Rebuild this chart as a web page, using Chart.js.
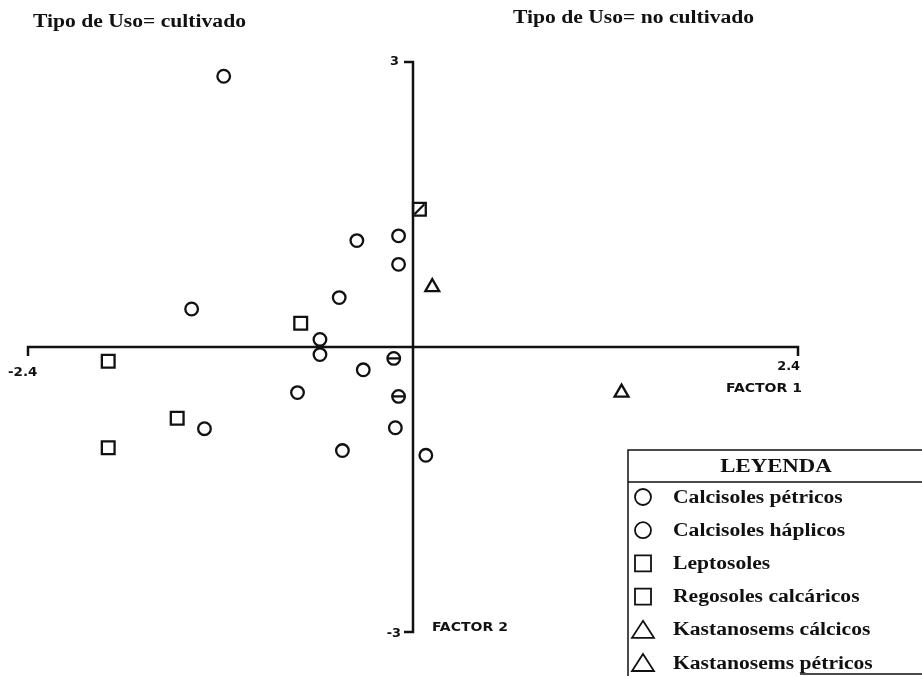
<!DOCTYPE html>
<html>
<head>
<meta charset="utf-8">
<script src="https://cdn.jsdelivr.net/npm/chart.js@4"></script>
<style>
  body { margin: 0; background: #fff; }
  #wrap { width: 922px; height: 676px; }
</style>
</head>
<body>
<div id="wrap"><canvas id="myChart" width="922" height="676"></canvas></div>
<script>
// factor scores
const calcisolesPetricos = [
    {x: -1.18, y: 2.85}, {x: -0.35, y: 1.12}, {x: -0.09, y: 1.17}, {x: -0.09, y: 0.87},
    {x: -0.46, y: 0.52}, {x: -1.38, y: 0.40}, {x: -0.58, y: 0.08}, {x: -0.58, y: -0.08}
];
const calcisolesHaplicos = [
    {x: -0.12, y: -0.12}, {x: -0.31, y: -0.24}, {x: -0.72, y: -0.48}, {x: -0.09, y: -0.52},
    {x: -1.30, y: -0.86}, {x: -0.11, y: -0.85}, {x: -0.44, y: -1.09}, {x: 0.08, y: -1.14}
];
const leptosoles = [{x: 0.04, y: 1.45}, {x: -0.70, y: 0.25}, {x: -1.90, y: -0.15}];
const regosolesCalcaricos = [{x: -1.47, y: -0.75}, {x: -1.90, y: -1.06}];
const kastanosemsCalcicos = [{x: 0.12, y: 0.63}];
const kastanosemsPetricos = [{x: 1.30, y: -0.48}];
// overlapping marks (bar through circles, slash in square)
const overlapDash = [{x: -0.12, y: -0.12}, {x: -0.09, y: -0.52}];
const overlapSlash = [{x: 0.04, y: 1.45}];

const xRange = [-2.4, 2.4];
const yRange = [-3, 3];
const xTickLabels = ['-2.4', '2.4'];
const yTickLabels = ['3', '-3'];

const legendNames = ['Calcisoles pétricos', 'Calcisoles háplicos', 'Leptosoles',
    'Regosoles calcáricos', 'Kastanosems cálcicos', 'Kastanosems pétricos'];
const legendShapes = ['circle', 'circle', 'rect', 'rect', 'triangle', 'triangle'];

const serif = '"Liberation Serif", "Times New Roman", serif';
const sansCond = '"DejaVu Sans Condensed", "DejaVu Sans", sans-serif';

const mk = function(label, data, style, radius) {
    return {
        label: label,
        data: data,
        pointStyle: style,
        pointRadius: radius,
        pointBorderColor: '#111',
        pointBackgroundColor: 'rgba(0,0,0,0)',
        pointBorderWidth: 2.3,
        showLine: false
    };
};

// the scan is stretched sideways, so text gets a horizontal scale
const wideText = function(ctx, text, x, y, sx) {
    ctx.save();
    ctx.translate(x, y);
    ctx.scale(sx, 1);
    ctx.fillText(text, 0, 0);
    ctx.restore();
};

const axesPlugin = {
    id: 'crossAxes',
    afterDatasetsDraw(chart) {
        const ctx = chart.ctx;
        const xs = chart.scales.x, ys = chart.scales.y;
        const x0 = xs.getPixelForValue(0), y0 = ys.getPixelForValue(0);
        const xl = xs.getPixelForValue(xRange[0]), xr = xs.getPixelForValue(xRange[1]);
        const yt = ys.getPixelForValue(yRange[1]), yb = ys.getPixelForValue(yRange[0]);
        ctx.save();
        ctx.strokeStyle = '#111';
        ctx.lineWidth = 2.5;
        ctx.beginPath();
        ctx.moveTo(xl, y0 + 9); ctx.lineTo(xl, y0); ctx.lineTo(xr, y0); ctx.lineTo(xr, y0 + 9);
        ctx.moveTo(x0 - 9, yt); ctx.lineTo(x0, yt); ctx.lineTo(x0, yb); ctx.lineTo(x0 - 9, yb);
        ctx.stroke();

        ctx.fillStyle = '#111';
        ctx.font = 'bold 13px ' + sansCond;
        ctx.textBaseline = 'middle';
        ctx.textAlign = 'left';
        wideText(ctx, xTickLabels[0], 8, y0 + 26, 1.15);
        ctx.textAlign = 'right';
        wideText(ctx, xTickLabels[1], xr + 2, y0 + 20, 1.1);
        wideText(ctx, 'FACTOR 1', xr + 4, y0 + 42, 1.2);
        wideText(ctx, yTickLabels[0], x0 - 14, yt, 1.1);
        wideText(ctx, yTickLabels[1], x0 - 12, yb + 2, 1.1);
        ctx.textAlign = 'left';
        wideText(ctx, 'FACTOR 2', x0 + 19, yb - 4, 1.2);

        // titles
        ctx.font = 'bold 18px ' + serif;
        wideText(ctx, 'Tipo de Uso= cultivado', 33, 22, 1.2);
        wideText(ctx, 'Tipo de Uso= no cultivado', 513, 18, 1.2);

        // legend box
        const lx = 628, ly = 450;
        ctx.lineWidth = 1.5;
        ctx.beginPath();
        ctx.moveTo(lx, 676); ctx.lineTo(lx, ly); ctx.lineTo(922, ly);
        ctx.moveTo(lx, 482); ctx.lineTo(922, 482);
        ctx.moveTo(800, 674); ctx.lineTo(922, 674);
        ctx.stroke();
        ctx.textAlign = 'center';
        ctx.font = 'bold 19px ' + serif;
        wideText(ctx, 'LEYENDA', 776, 467, 1.2);
        ctx.textAlign = 'left';
        ctx.font = 'bold 18px ' + serif;
        ctx.lineWidth = 1.8;
        legendNames.forEach(function(name, i) {
            const cy = 497 + i * 33.2;
            const cx = 643;
            ctx.beginPath();
            if (legendShapes[i] === 'circle') {
                ctx.arc(cx, cy, 8, 0, Math.PI * 2);
            } else if (legendShapes[i] === 'rect') {
                ctx.rect(cx - 8, cy - 8, 16, 16);
            } else {
                ctx.moveTo(cx, cy - 9); ctx.lineTo(cx + 11, cy + 8); ctx.lineTo(cx - 11, cy + 8); ctx.closePath();
            }
            ctx.stroke();
            wideText(ctx, name, 673, cy + 1, 1.2);
        });
        ctx.restore();
    }
};

const ctx = document.getElementById('myChart');
new Chart(ctx, {
    type: 'scatter',
    data: {
        datasets: [
            mk('Calcisoles pétricos', calcisolesPetricos, 'circle', 6.3),
            mk('Calcisoles háplicos', calcisolesHaplicos, 'circle', 6.3),
            mk('Leptosoles', leptosoles, 'rect', 9),
            mk('Regosoles calcáricos', regosolesCalcaricos, 'rect', 9),
            mk('Kastanosems cálcicos', kastanosemsCalcicos, 'triangle', 8),
            mk('Kastanosems pétricos', kastanosemsPetricos, 'triangle', 8),
            mk('', overlapDash, 'line', 6),
            Object.assign(mk('', overlapSlash, 'line', 7), {pointRotation: -45})
        ]
    },
    options: {
        responsive: false,
        animation: false,
        layout: { padding: { left: 28, right: 124, top: 62, bottom: 44 } },
        plugins: { legend: { display: false }, tooltip: { enabled: false } },
        scales: {
            x: { min: xRange[0], max: xRange[1], display: false },
            y: { min: yRange[0], max: yRange[1], display: false }
        }
    },
    plugins: [axesPlugin]
});
</script>
</body>
</html>
